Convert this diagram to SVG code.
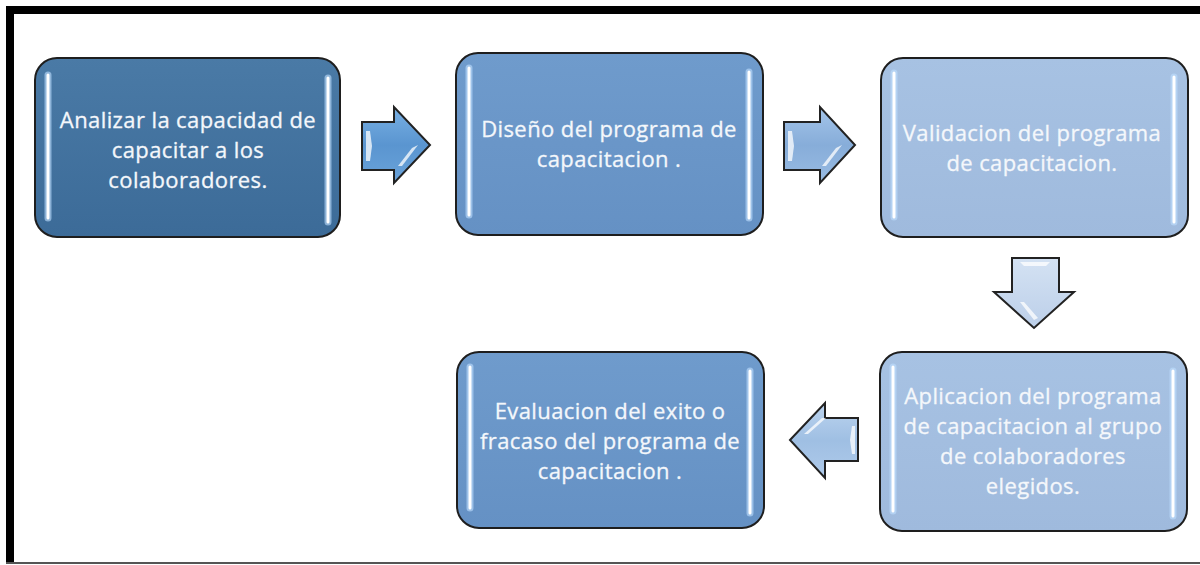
<svg xmlns="http://www.w3.org/2000/svg" width="1200" height="565" viewBox="0 0 1200 565">
<defs>
<style>
.box{stroke:#1e1e1e;stroke-width:2}
.hl{stroke:#ffffff;stroke-width:3;stroke-linecap:round;fill:none}
.glow{stroke:#bfe0ff;stroke-width:7;stroke-linecap:round;fill:none;opacity:0.6}
.t{font-family:"Open Sans","Liberation Sans",sans-serif;font-size:22px;letter-spacing:0.4px;fill:#f4f7fb;text-anchor:middle;stroke:#f4f7fb;stroke-width:0.3}
.arr{stroke:#222;stroke-width:2;stroke-linejoin:miter}
.sh{fill:#ffffff;opacity:0.75}
</style>
<linearGradient id="g1" x1="0" y1="0" x2="0" y2="1"><stop offset="0" stop-color="#4a7aa6"/><stop offset="1" stop-color="#3c6b98"/></linearGradient>
<linearGradient id="g2" x1="0" y1="0" x2="0" y2="1"><stop offset="0" stop-color="#6f9bcc"/><stop offset="1" stop-color="#6591c4"/></linearGradient>
<linearGradient id="g3" x1="0" y1="0" x2="0" y2="1"><stop offset="0" stop-color="#a7c2e3"/><stop offset="1" stop-color="#9fbadd"/></linearGradient>
<linearGradient id="a1" x1="0" y1="0" x2="0" y2="1"><stop offset="0" stop-color="#78b0e4"/><stop offset="0.5" stop-color="#5a95d0"/><stop offset="1" stop-color="#6aa3da"/></linearGradient>
<linearGradient id="a2" x1="0" y1="0" x2="0" y2="1"><stop offset="0" stop-color="#a4c5ea"/><stop offset="0.5" stop-color="#87add9"/><stop offset="1" stop-color="#98bbe3"/></linearGradient>
<linearGradient id="a3" x1="0" y1="0" x2="0" y2="1"><stop offset="0" stop-color="#d4e2f3"/><stop offset="1" stop-color="#bccfe9"/></linearGradient>
<linearGradient id="a4" x1="0" y1="0" x2="0" y2="1"><stop offset="0" stop-color="#bcd4ef"/><stop offset="0.5" stop-color="#9fbfe3"/><stop offset="1" stop-color="#afcaea"/></linearGradient>
</defs>
<rect width="1200" height="565" fill="#ffffff"/>
<!-- frame -->
<rect x="6" y="6" width="1194" height="8" fill="#000"/>
<rect x="6" y="6" width="8" height="558" fill="#000"/>
<rect x="6" y="562" width="1194" height="2" fill="#555"/>

<g id="connectors">
  <g id="arrow1">
    <path class="arr" fill="url(#a1)" d="M362,122 L394,122 L394,107 L430,145 L394,183 L394,170 L362,170 Z"/>
    <path class="sh" d="M366,131 L370,131 L372,146 L370,161 L366,161 Z"/>
    <path class="sh" d="M412,148 L418,145 L402,166 L398,166 Z" opacity="0.6"/>
  </g>
  <g id="arrow2">
    <path class="arr" fill="url(#a2)" d="M784,122 L820,122 L820,107 L855,145 L820,183 L820,170 L784,170 Z"/>
    <path class="sh" d="M788,131 L792,131 L794,146 L792,161 L788,161 Z"/>
    <path class="sh" d="M836,148 L842,145 L826,166 L822,166 Z" opacity="0.6"/>
  </g>
  <g id="arrow3">
    <path class="arr" fill="url(#a3)" d="M1012,258 L1059,258 L1059,292 L1074,292 L1034,328 L994,292 L1012,292 Z"/>
    <path class="sh" d="M1020,262 L1050,262 L1046,266 L1024,266 Z"/>
    <path class="sh" d="M1020,302 L1024,302 L1038,318 L1034,320 Z" opacity="0.6"/>
  </g>
  <g id="arrow4">
    <path class="arr" fill="url(#a4)" d="M790,440 L825,403 L825,418 L858,418 L858,461 L825,461 L825,478 Z"/>
    <path class="sh" d="M852,426 L855,426 L855,454 L852,454 L850,440 Z"/>
    <path class="sh" d="M808,434 L826,418 L822,418 L804,434 Z" opacity="0.7"/>
  </g>
</g>

<g id="node1">
  <rect class="box" x="35" y="58" width="305" height="179" rx="22" fill="url(#g1)"/>
  <line class="glow" x1="48" y1="75" x2="48" y2="218"/><line class="hl" x1="48" y1="75" x2="48" y2="218"/>
  <line class="glow" x1="328" y1="78" x2="328" y2="222"/><line class="hl" x1="328" y1="78" x2="328" y2="222"/>
  <text class="t" x="188" y="128">Analizar la capacidad de</text>
  <text class="t" x="188" y="158">capacitar a los</text>
  <text class="t" x="188" y="188">colaboradores.</text>
</g>

<g id="node2">
  <rect class="box" x="456" y="53" width="307" height="182" rx="22" fill="url(#g2)"/>
  <line class="glow" x1="469" y1="68" x2="469" y2="215"/><line class="hl" x1="469" y1="68" x2="469" y2="215"/>
  <line class="glow" x1="749" y1="72" x2="749" y2="218"/><line class="hl" x1="749" y1="72" x2="749" y2="218"/>
  <text class="t" x="609" y="137">Diseño del programa de</text>
  <text class="t" x="609" y="167">capacitacion .</text>
</g>

<g id="node3">
  <rect class="box" x="881" y="58" width="307" height="179" rx="22" fill="url(#g3)"/>
  <line class="glow" x1="894" y1="73" x2="894" y2="217"/><line class="hl" x1="894" y1="73" x2="894" y2="217"/>
  <line class="glow" x1="1174" y1="77" x2="1174" y2="222"/><line class="hl" x1="1174" y1="77" x2="1174" y2="222"/>
  <text class="t" x="1032" y="141">Validacion del programa</text>
  <text class="t" x="1032" y="171">de capacitacion.</text>
</g>

<g id="node4">
  <rect class="box" x="880" y="352" width="307" height="179" rx="22" fill="url(#g3)"/>
  <line class="glow" x1="893" y1="367" x2="893" y2="511"/><line class="hl" x1="893" y1="367" x2="893" y2="511"/>
  <line class="glow" x1="1173" y1="371" x2="1173" y2="516"/><line class="hl" x1="1173" y1="371" x2="1173" y2="516"/>
  <text class="t" x="1033" y="404">Aplicacion del programa</text>
  <text class="t" x="1033" y="434">de capacitacion al grupo</text>
  <text class="t" x="1033" y="464">de colaboradores</text>
  <text class="t" x="1033" y="494">elegidos.</text>
</g>

<g id="node5">
  <rect class="box" x="457" y="352" width="307" height="176" rx="22" fill="url(#g2)"/>
  <line class="glow" x1="470" y1="367" x2="470" y2="508"/><line class="hl" x1="470" y1="367" x2="470" y2="508"/>
  <line class="glow" x1="750" y1="371" x2="750" y2="513"/><line class="hl" x1="750" y1="371" x2="750" y2="513"/>
  <text class="t" x="610" y="419">Evaluacion del exito o</text>
  <text class="t" x="610" y="449">fracaso del programa de</text>
  <text class="t" x="610" y="479">capacitacion .</text>
</g>
</svg>
